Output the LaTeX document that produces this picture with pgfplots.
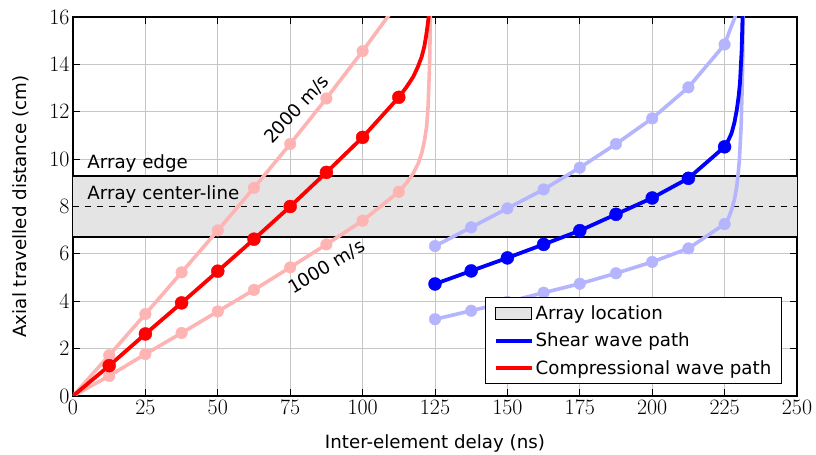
\documentclass[border=0pt]{standalone}
\usepackage{pgfplots}
\pgfplotsset{compat=1.18}
\usepackage{fontspec}
\setmainfont{DejaVu Sans}
\newfontfamily\lmr{Latin Modern Roman}
\definecolor{lred}{RGB}{255,180,180}
\definecolor{lblue}{RGB}{180,180,255}
\definecolor{bandgray}{RGB}{228,228,228}
\newcommand{\lf}{\fontsize{18.3}{22}\selectfont}
\begin{document}
\begin{tikzpicture}
\begin{axis}[
  scale only axis, width=724bp, height=379bp,
  xmin=0, xmax=250, ymin=0, ymax=16,
  xtick={0,25,...,250}, ytick={0,2,...,16},
  grid=major, grid style={gray!45, line width=0.8bp},
  axis line style={line width=1.3bp},
  tick style={black, line width=1bp},
  major tick length=7bp,
  /pgf/number format/assume math mode=true,
  tick label style={font=\lmr\fontsize{22}{22}\selectfont},
  xlabel={Inter-element delay (ns)},
  ylabel={Axial travelled distance (cm)},
  every axis x label/.style={at={(axis description cs:0.5,0)}, yshift=-47bp, anchor=center, font=\lf},
  every axis y label/.style={at={(axis description cs:0,0.5)}, xshift=-52bp, rotate=90, anchor=center, font=\lf},
  legend style={at={(0.979,0.031)}, anchor=south east, draw=black, line width=1bp,
    font=\lf, cells={anchor=west}, inner xsep=8bp, inner ysep=6bp,
    row sep=8bp},
]
% legend images
\addlegendimage{legend image code/.code={\draw[fill=bandgray,draw=black,line width=1bp] (0bp,-6bp) rectangle (36bp,6bp);}}
\addlegendentry{Array location}
\addlegendimage{legend image code/.code={\draw[blue,line width=3.8bp] (0bp,0bp) -- (36bp,0bp);}}
\addlegendentry{Shear wave path}
\addlegendimage{legend image code/.code={\draw[red,line width=3.8bp] (0bp,0bp) -- (36bp,0bp);}}
\addlegendentry{Compressional wave path}

% array band
\addplot[fill=bandgray, draw=none, forget plot] coordinates {(0,6.7) (250,6.7) (250,9.3) (0,9.3)} -- cycle;
\addplot[black, line width=1.8bp, forget plot] coordinates {(0,9.3) (250,9.3)};
\addplot[black, line width=1.8bp, forget plot] coordinates {(0,6.7) (250,6.7)};
\addplot[black, line width=1.6bp, dash pattern=on 6bp off 6bp, forget plot] coordinates {(0,8) (250,8)};

% light red upper (2000 m/s)
\addplot[lred, line width=3.6bp, forget plot] coordinates {
(0,0) (12.5,1.72) (25,3.46) (37.5,5.22) (50,6.99) (62.5,8.79) (75,10.64) (87.5,12.56) (100,14.56) (112.5,16.65)};
\addplot[lred, only marks, mark=*, mark size=5.8bp, forget plot] coordinates {
(12.5,1.72) (25,3.46) (37.5,5.22) (50,6.99) (62.5,8.79) (75,10.64) (87.5,12.56) (100,14.56)};
% light red lower (1000 m/s)
\addplot[lred, line width=3.6bp, forget plot] coordinates {
(0,0) (12.5,0.85) (25,1.77) (37.5,2.66) (50,3.57) (62.5,4.48) (75,5.43) (87.5,6.40) (100,7.40) (112.5,8.62)
(115.2,9.0) (117.5,9.40) (119.2,9.82) (120.4,10.24) (121.4,10.8) (122.1,11.37) (122.6,12.2) (122.9,13.2) (123.2,14.3) (123.3,15.31) (123.5,16.5)};
\addplot[lred, only marks, mark=*, mark size=5.8bp, forget plot] coordinates {
(12.5,0.85) (25,1.77) (37.5,2.66) (50,3.57) (62.5,4.48) (75,5.43) (87.5,6.40) (100,7.40) (112.5,8.62)};
% dark red
\addplot[red, line width=3.8bp, forget plot] coordinates {
(0,0) (12.5,1.28) (25,2.62) (37.5,3.93) (50,5.27) (62.5,6.62) (75,8.0) (87.5,9.44) (100,10.92) (112.5,12.61)
(115.2,13.05) (117.5,13.48) (119.1,13.9) (120.4,14.32) (121.3,14.75) (121.9,15.17) (122.4,15.6) (122.8,16.0) (123.0,16.5)};
\addplot[red, only marks, mark=*, mark size=6.5bp, forget plot] coordinates {
(12.5,1.28) (25,2.62) (37.5,3.93) (50,5.27) (62.5,6.62) (75,8.0) (87.5,9.44) (100,10.92) (112.5,12.61)};

% light blue upper
\addplot[lblue, line width=3.6bp, forget plot] coordinates {
(125,6.33) (137.5,7.12) (150,7.92) (162.5,8.72) (175,9.64) (187.5,10.64) (200,11.72) (212.5,13.03) (225,14.84) (227,15.5) (228.6,16.0) (229.2,16.3)};
\addplot[lblue, only marks, mark=*, mark size=5.8bp, forget plot] coordinates {
(125,6.33) (137.5,7.12) (150,7.92) (162.5,8.72) (175,9.64) (187.5,10.64) (200,11.72) (212.5,13.03) (225,14.84)};
% light blue lower
\addplot[lblue, line width=3.6bp, forget plot] coordinates {
(125,3.24) (137.5,3.60) (150,3.97) (162.5,4.36) (175,4.74) (187.5,5.18) (200,5.66) (212.5,6.23) (225,7.26)
(226.3,7.5) (227.4,7.85) (228.4,8.3) (229.2,8.84) (229.7,9.4) (230.1,9.96) (230.7,11.37) (231.1,13.2) (231.3,14.6) (231.4,16.5)};
\addplot[lblue, only marks, mark=*, mark size=5.8bp, forget plot] coordinates {
(125,3.24) (137.5,3.60) (150,3.97) (162.5,4.36) (175,4.74) (187.5,5.18) (200,5.66) (212.5,6.23) (225,7.26)};
% dark blue
\addplot[blue, line width=3.8bp, forget plot] coordinates {
(125,4.73) (137.5,5.28) (150,5.83) (162.5,6.40) (175,6.98) (187.5,7.67) (200,8.36) (212.5,9.19) (225,10.52)
(226.3,10.8) (227.4,11.09) (228.4,11.55) (229.2,12.07) (229.8,12.6) (230.3,13.2) (230.9,14.6) (231.2,16.0) (231.3,16.5)};
\addplot[blue, only marks, mark=*, mark size=6.5bp, forget plot] coordinates {
(125,4.73) (137.5,5.28) (150,5.83) (162.5,6.40) (175,6.98) (187.5,7.67) (200,8.36) (212.5,9.19) (225,10.52)};

% text labels
\node[anchor=base west, font=\lf, inner sep=0pt] at (axis cs:4.9,9.61) {Array edge};
\node[anchor=base west, font=\lf, inner sep=0pt] at (axis cs:4.9,8.30) {Array center-line};
\node[rotate=47, font=\lf] at (axis cs:77.3,12.1) {2000 m/s};
\node[rotate=31, font=\lf] at (axis cs:87.6,5.45) {1000 m/s};
\end{axis}
\pgfresetboundingbox
\path ([xshift=-73bp,yshift=-59bp]current axis.south west) rectangle ([xshift=19bp,yshift=17bp]current axis.north east);
\end{tikzpicture}
\end{document}
